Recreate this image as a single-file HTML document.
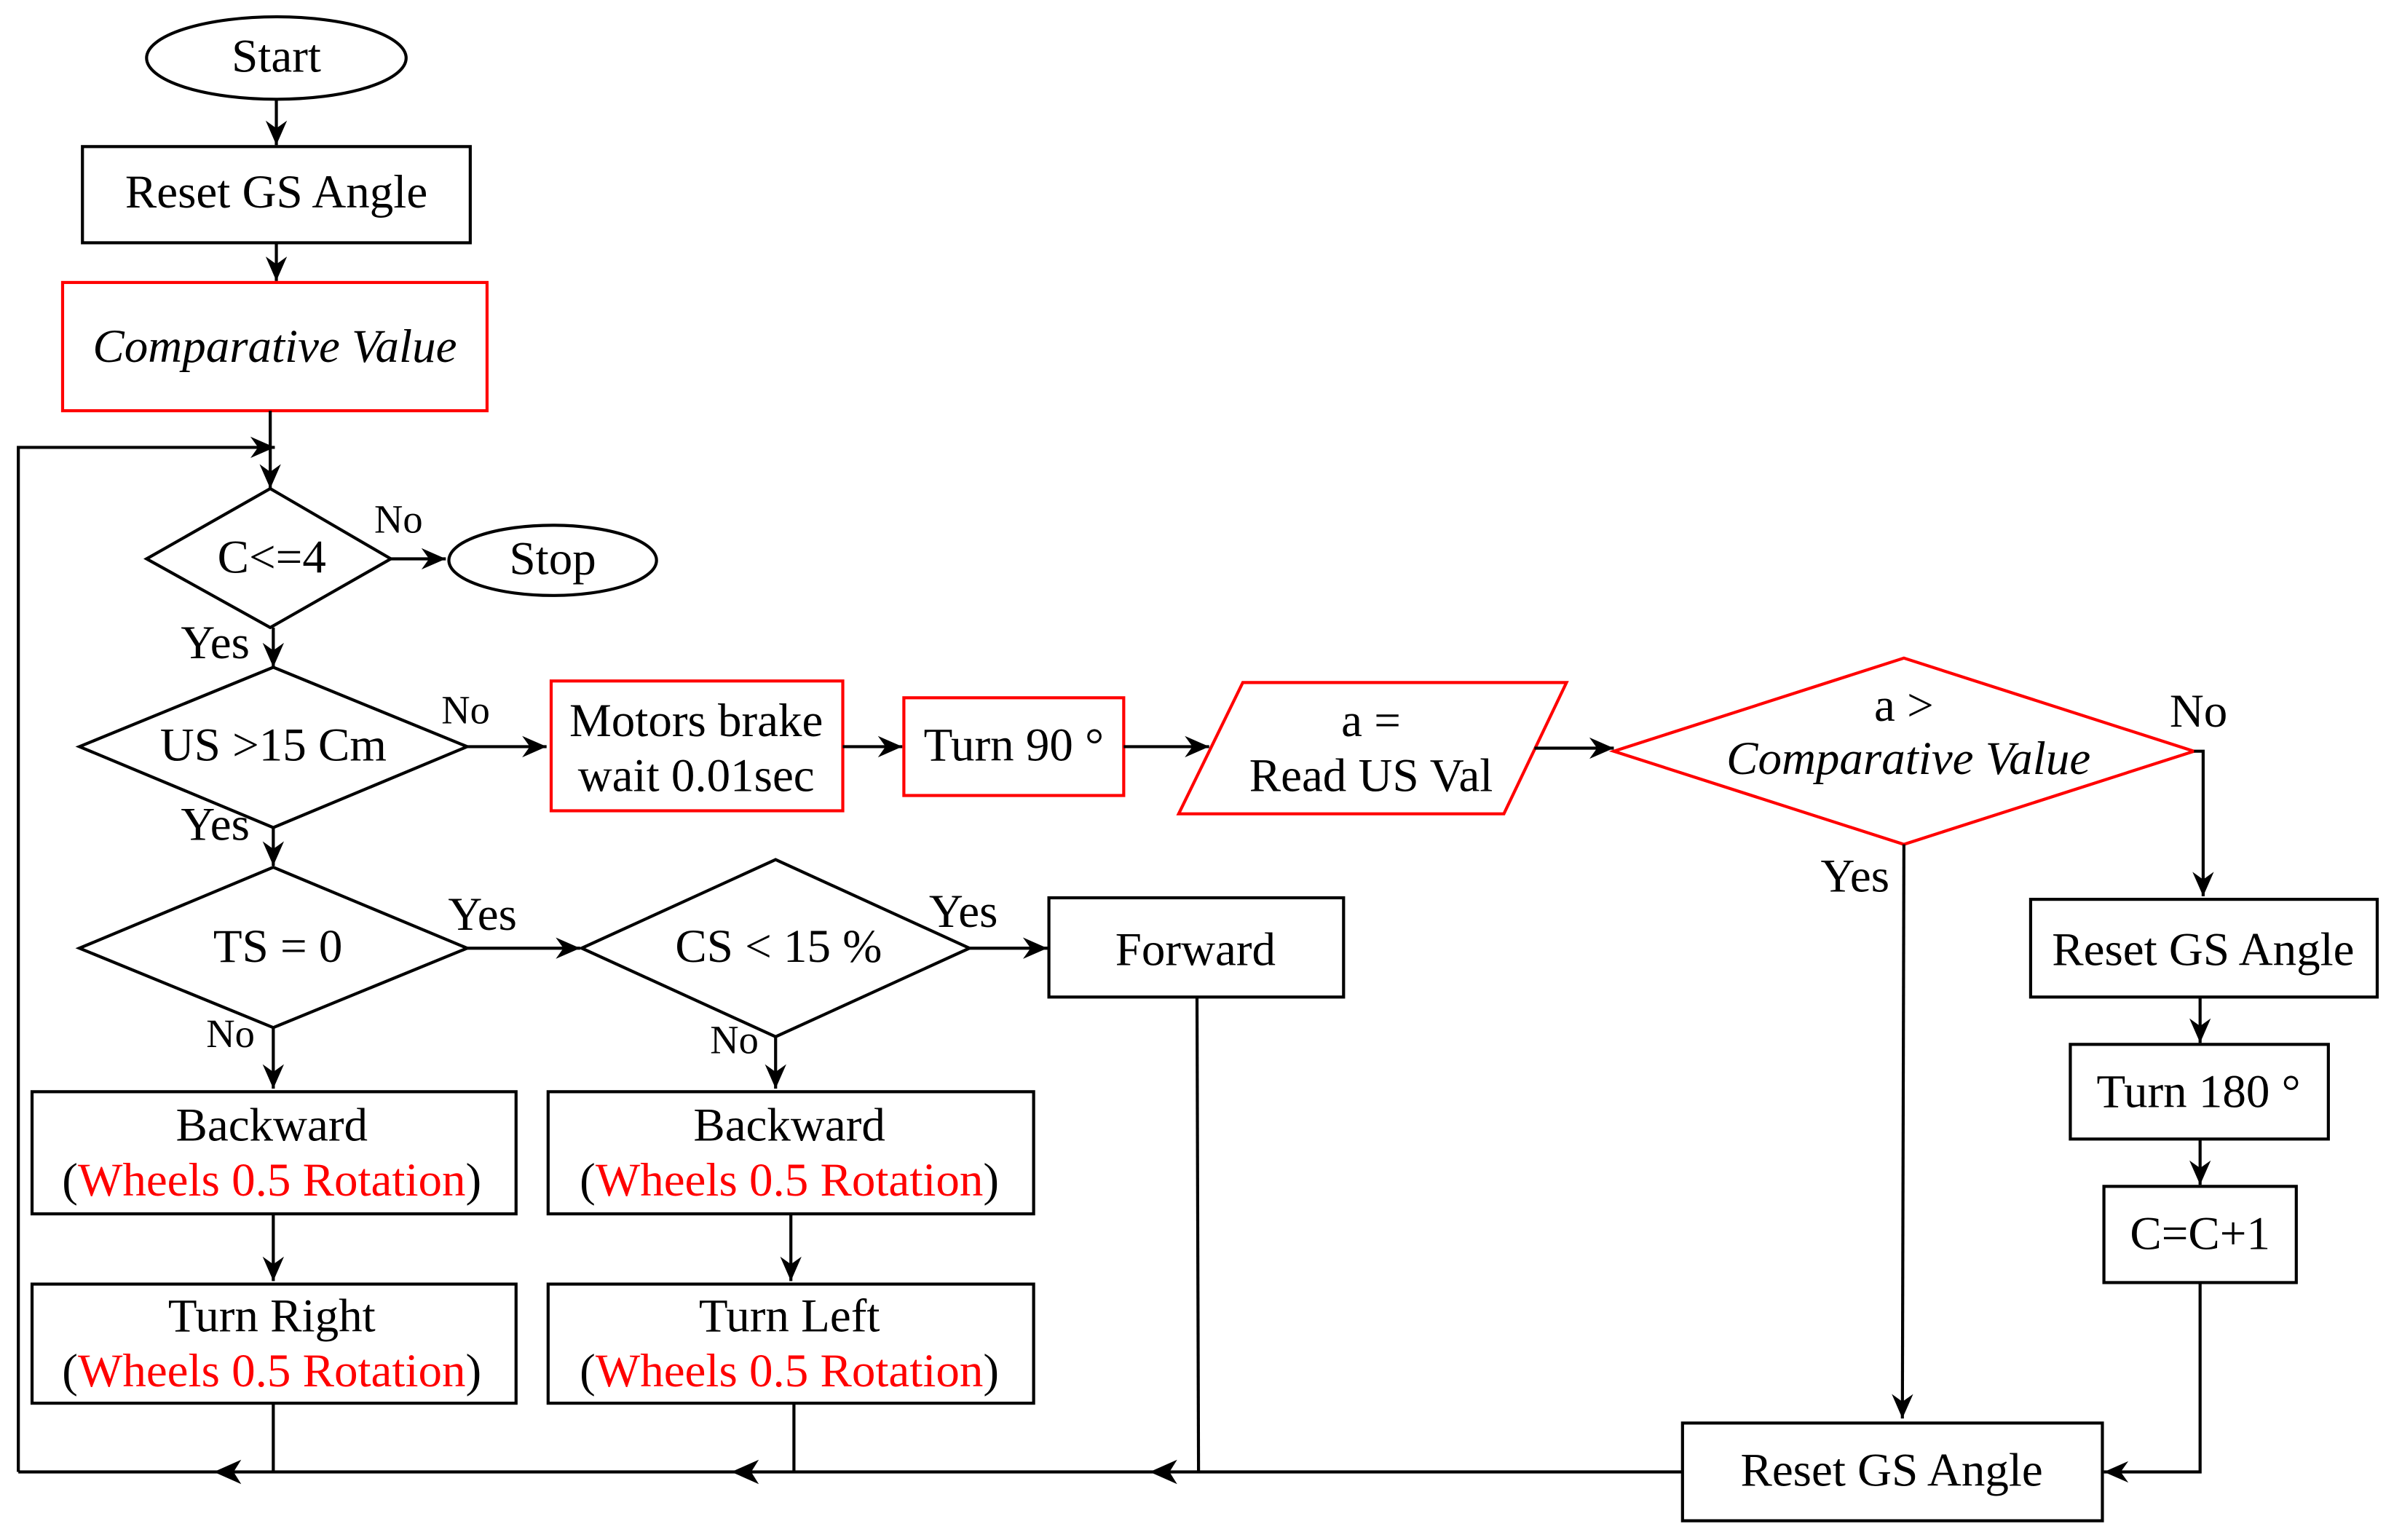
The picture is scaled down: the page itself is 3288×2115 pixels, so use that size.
<!DOCTYPE html>
<html><head><meta charset="utf-8"><style>
html,body{margin:0;padding:0;background:#fff;}
svg{display:block;}
text{font-family:"Liberation Serif",serif;font-size:31px;fill:#000;text-anchor:middle;dominant-baseline:central;}
.i{font-style:italic;}
.r{fill:#f00;}
.s{font-size:26px;}
</style></head><body>
<svg width="3288" height="2115" viewBox="0 0 1568 1008.6" preserveAspectRatio="none" xmlns="http://www.w3.org/2000/svg">
<defs>
<marker id="a" markerUnits="userSpaceOnUse" markerWidth="20" markerHeight="20" refX="16" refY="8" orient="auto">
<path d="M0,1 L16,8 L0,15 L5,8 Z" fill="#000"/>
</marker>
</defs>
<g fill="none" stroke="#000" stroke-width="2">
<ellipse cx="181" cy="38" rx="85" ry="27"/>
<line x1="181" y1="65" x2="181" y2="95" marker-end="url(#a)"/>
<rect x="54" y="96" width="254" height="63"/>
<line x1="181" y1="159" x2="181" y2="184" marker-end="url(#a)"/>
<rect x="41" y="185" width="278" height="84" stroke="#f00"/>
<line x1="177" y1="269" x2="177" y2="320" marker-end="url(#a)"/>
<polyline points="12,964 12,293 180,293" marker-end="url(#a)"/>
<polygon points="96,366 177,320 256,366 177,411"/>
<line x1="256" y1="366" x2="292" y2="366" marker-end="url(#a)"/>
<ellipse cx="362" cy="367" rx="68" ry="23"/>
<line x1="179" y1="411" x2="179" y2="437" marker-end="url(#a)"/>
<polygon points="52,489 179,437 306,489 179,542"/>
<line x1="306" y1="489" x2="358" y2="489" marker-end="url(#a)"/>
<rect x="361" y="446" width="191" height="85" stroke="#f00"/>
<line x1="552" y1="489" x2="591" y2="489" marker-end="url(#a)"/>
<rect x="592" y="457" width="144" height="64" stroke="#f00"/>
<line x1="736" y1="489" x2="792" y2="489" marker-end="url(#a)"/>
<polygon points="814,447 1026,447 985,533 772,533" stroke="#f00"/>
<line x1="1005" y1="490" x2="1057" y2="490" marker-end="url(#a)"/>
<polygon points="1057,492 1247,431 1437,492 1247,553" stroke="#f00"/>
<polyline points="1437,492 1443,492 1443,587" marker-end="url(#a)"/>
<rect x="1330" y="589" width="227" height="64"/>
<line x1="1441" y1="653" x2="1441" y2="683" marker-end="url(#a)"/>
<rect x="1356" y="684" width="169" height="62"/>
<line x1="1441" y1="746" x2="1441" y2="776" marker-end="url(#a)"/>
<rect x="1378" y="777" width="126" height="63"/>
<polyline points="1441,840 1441,964 1378,964" marker-end="url(#a)"/>
<line x1="1247" y1="553" x2="1246" y2="929" marker-end="url(#a)"/>
<rect x="1102" y="932" width="275" height="64"/>
<line x1="179" y1="542" x2="179" y2="567" marker-end="url(#a)"/>
<polygon points="52,621 179,568 306,621 179,673"/>
<line x1="306" y1="621" x2="380" y2="621" marker-end="url(#a)"/>
<polygon points="381,621 508,563 635,621 508,679"/>
<line x1="635" y1="621" x2="686" y2="621" marker-end="url(#a)"/>
<rect x="687" y="588" width="193" height="65"/>
<line x1="784" y1="653" x2="785" y2="964"/>
<line x1="179" y1="673" x2="179" y2="713" marker-end="url(#a)"/>
<rect x="21" y="715" width="317" height="80"/>
<line x1="179" y1="795" x2="179" y2="839" marker-end="url(#a)"/>
<rect x="21" y="841" width="317" height="78"/>
<line x1="179" y1="919" x2="179" y2="964"/>
<line x1="508" y1="679" x2="508" y2="713" marker-end="url(#a)"/>
<rect x="359" y="715" width="318" height="80"/>
<line x1="518" y1="795" x2="518" y2="839" marker-end="url(#a)"/>
<rect x="359" y="841" width="318" height="78"/>
<line x1="520" y1="919" x2="520" y2="964"/>
<line x1="1102" y1="964" x2="12" y2="964"/>
</g>
<g fill="#000">
<path d="M140,964 L158,956 L153,964 L158,972 Z"/>
<path d="M479,964 L497,956 L492,964 L497,972 Z"/>
<path d="M753,964 L771,956 L766,964 L771,972 Z"/>
</g>
<text x="181" y="37">Start</text>
<text x="181" y="126">Reset GS Angle</text>
<text x="180" y="227" class="i">Comparative Value</text>
<text x="178" y="365">C&lt;=4</text>
<text x="261" y="340" class="s">No</text>
<text x="362" y="366">Stop</text>
<text x="141" y="421">Yes</text>
<text x="179" y="488">US &gt;15 Cm</text>
<text x="305" y="465" class="s">No</text>
<text x="456" y="472">Motors brake</text>
<text x="456" y="508">wait 0.01sec</text>
<text x="664" y="488">Turn 90 °</text>
<text x="898" y="472">a =</text>
<text x="898" y="508">Read US Val</text>
<text x="1247" y="462">a &gt;</text>
<text x="1250" y="497" class="i">Comparative Value</text>
<text x="1440" y="466">No</text>
<text x="1443" y="622">Reset GS Angle</text>
<text x="1440" y="715">Turn 180 °</text>
<text x="1441" y="808">C=C+1</text>
<text x="1215" y="574">Yes</text>
<text x="1239" y="963">Reset GS Angle</text>
<text x="141" y="540">Yes</text>
<text x="182" y="620">TS = 0</text>
<text x="316" y="599">Yes</text>
<text x="510" y="620">CS &lt; 15 %</text>
<text x="631" y="597">Yes</text>
<text x="783" y="622">Forward</text>
<text x="151" y="677" class="s">No</text>
<text x="481" y="681" class="s">No</text>
<text x="178" y="737">Backward</text>
<text x="178" y="773">(<tspan class="r">Wheels 0.5 Rotation</tspan>)</text>
<text x="178" y="862">Turn Right</text>
<text x="178" y="898">(<tspan class="r">Wheels 0.5 Rotation</tspan>)</text>
<text x="517" y="737">Backward</text>
<text x="517" y="773">(<tspan class="r">Wheels 0.5 Rotation</tspan>)</text>
<text x="517" y="862">Turn Left</text>
<text x="517" y="898">(<tspan class="r">Wheels 0.5 Rotation</tspan>)</text>
</svg>
</body></html>
